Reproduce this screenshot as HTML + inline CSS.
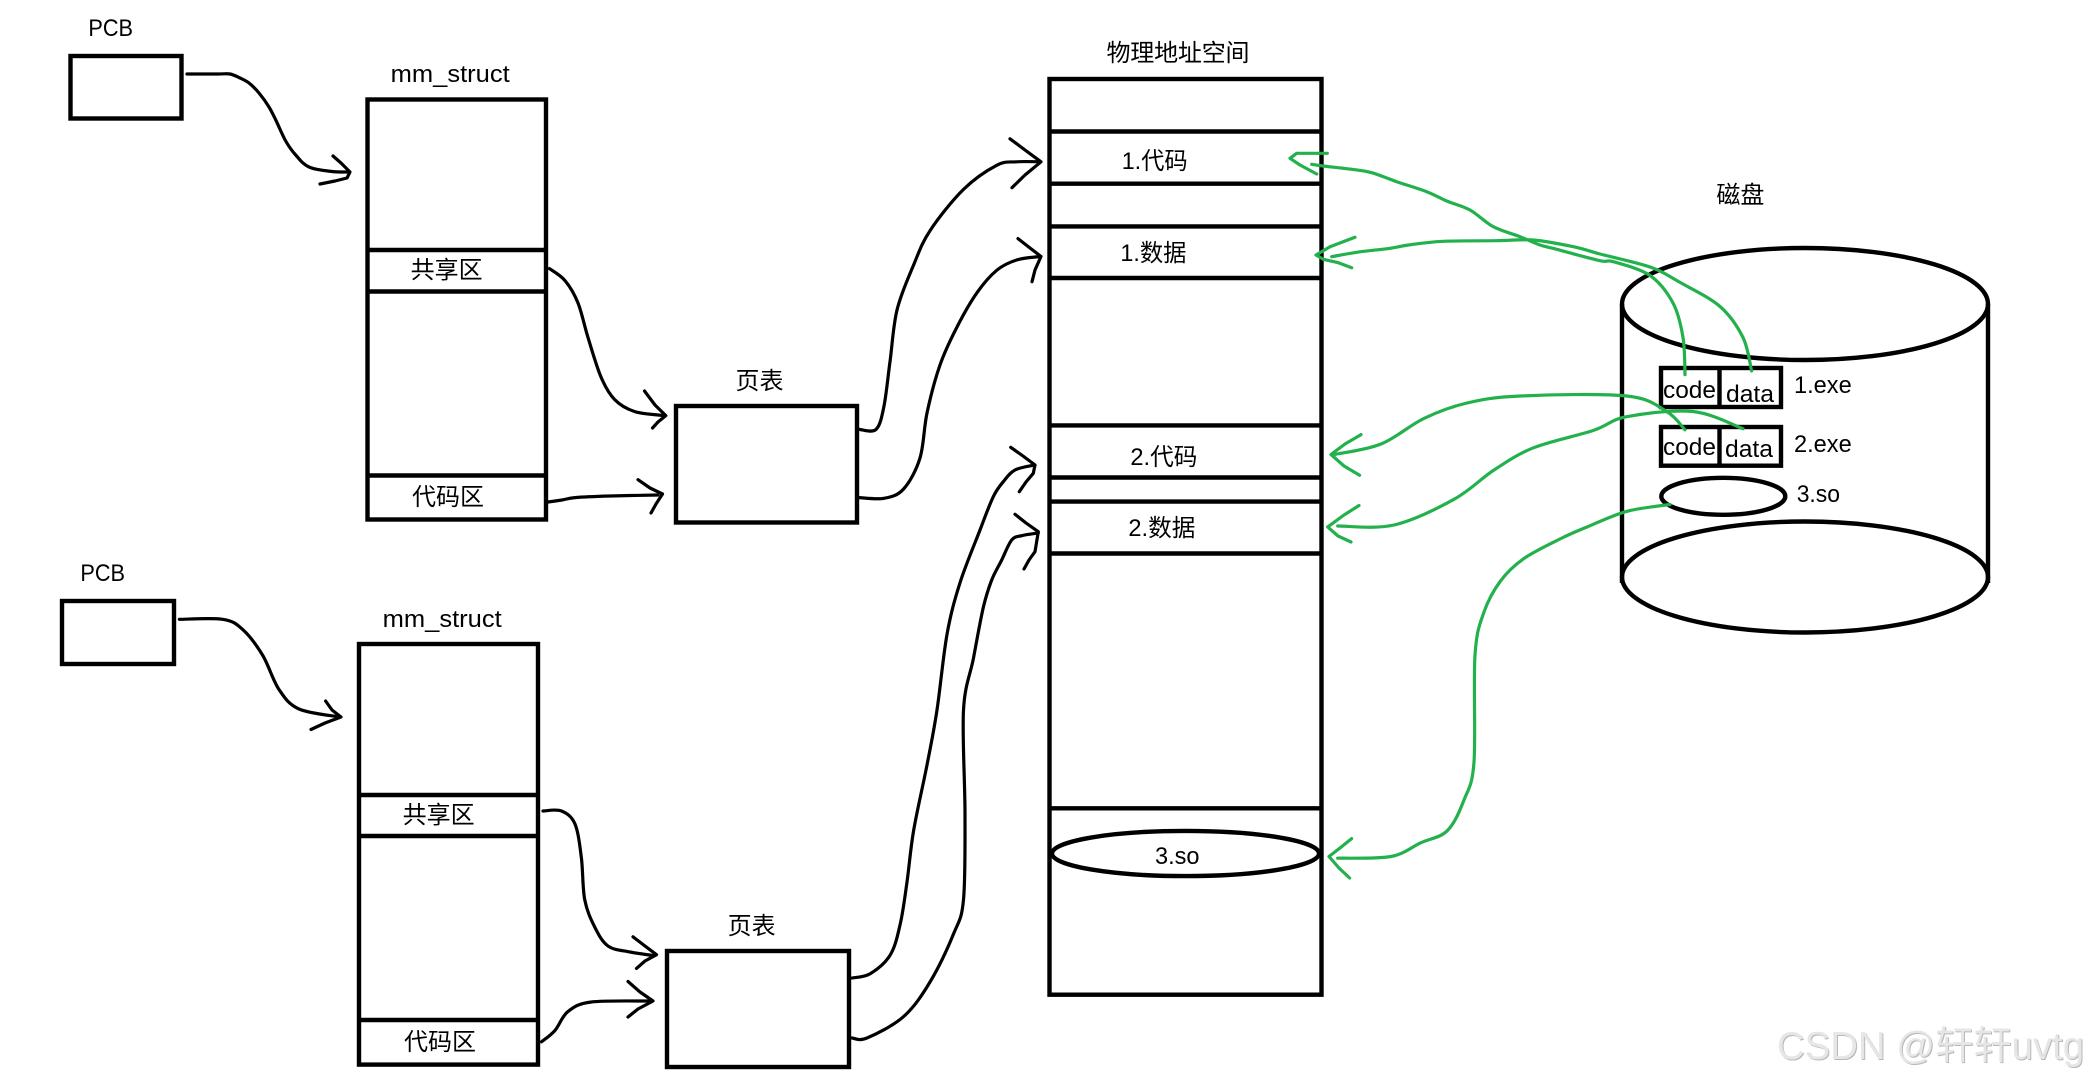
<!DOCTYPE html>
<html lang="zh">
<head>
<meta charset="utf-8">
<title>物理地址空间</title>
<style>
html,body{margin:0;padding:0;background:#fff;width:2084px;height:1078px;overflow:hidden}
svg{display:block}
text{font-family:"Liberation Sans","Noto Sans CJK SC",sans-serif;font-size:24px;fill:#000}
.b{fill:none;stroke:#000;stroke-width:4.4}
.c{fill:none;stroke:#000;stroke-width:3.2;stroke-linejoin:round;stroke-linecap:round}
.g{fill:none;stroke:#22b14c;stroke-width:3.2;stroke-linejoin:round;stroke-linecap:round}
</style>
</head>
<body>
<svg width="2084" height="1078" viewBox="0 0 2084 1078" xmlns="http://www.w3.org/2000/svg">
<rect width="2084" height="1078" fill="#fff"/>

<!-- group 1 -->
<rect class="b" x="70.5" y="56" width="111" height="62.5"/>
<rect class="b" x="367.5" y="99.5" width="178.5" height="420"/>
<line class="b" x1="366" x2="548" y1="250" y2="250"/>
<line class="b" x1="366" x2="548" y1="291.5" y2="291.5"/>
<line class="b" x1="366" x2="548" y1="475.5" y2="475.5"/>
<rect class="b" x="676" y="406" width="181" height="116.5"/>

<!-- group 2 -->
<rect class="b" x="62" y="601" width="112" height="63"/>
<rect class="b" x="359" y="644" width="179" height="420.6"/>
<line class="b" x1="358" x2="540" y1="795" y2="795"/>
<line class="b" x1="358" x2="540" y1="836" y2="836"/>
<line class="b" x1="358" x2="540" y1="1020" y2="1020"/>
<rect class="b" x="667" y="951" width="182" height="116"/>

<!-- physical -->
<rect class="b" x="1049.5" y="79" width="272" height="915.7"/>
<line class="b" x1="1048" x2="1323" y1="131.5" y2="131.5"/>
<line class="b" x1="1048" x2="1323" y1="183.7" y2="183.7"/>
<line class="b" x1="1048" x2="1323" y1="226.4" y2="226.4"/>
<line class="b" x1="1048" x2="1323" y1="278" y2="278"/>
<line class="b" x1="1048" x2="1323" y1="425.4" y2="425.4"/>
<line class="b" x1="1048" x2="1323" y1="477.5" y2="477.5"/>
<line class="b" x1="1048" x2="1323" y1="501.6" y2="501.6"/>
<line class="b" x1="1048" x2="1323" y1="553.5" y2="553.5"/>
<line class="b" x1="1048" x2="1323" y1="808.3" y2="808.3"/>
<ellipse class="b" cx="1185.5" cy="853.5" rx="133.5" ry="22.6"/>

<!-- disk -->
<ellipse class="b" cx="1805" cy="304" rx="183" ry="56"/>
<ellipse class="b" cx="1805" cy="577" rx="183" ry="55.5"/>
<line class="b" x1="1622" x2="1622" y1="304" y2="583"/>
<line class="b" x1="1988" x2="1988" y1="304" y2="583"/>
<rect class="b" x="1661" y="368" width="120" height="39"/>
<line class="b" x1="1719.5" x2="1719.5" y1="367" y2="408"/>
<rect class="b" x="1661" y="427" width="120" height="38.7"/>
<line class="b" x1="1719.5" x2="1719.5" y1="426" y2="466"/>
<ellipse class="b" cx="1723.3" cy="496.3" rx="62" ry="18.5"/>

<!-- black connectors -->
<polyline class="c s" points="187,74 218,74 230,74 240,78 249,83 259,93 269,107 276,120.5 285.7,141 295.7,155 309,167 332,171.5 349,172"/>
<polyline class="c" points="333,156 341,163 350,172 347,178 335,181 320,184"/>
<polyline class="c s" points="549.5,268.6 565,280.6 578,303 588,337.5 601,377 614.6,399.5 634.5,411.5 664.5,415.6"/>
<polyline class="c" points="644.5,391 655,405 665.8,415.6 658,422 652.5,428"/>
<polyline class="c s" points="548,502 562,500 575,497.6 610,496 658,495"/>
<polyline class="c" points="638,479.7 650,488 662.5,494 656,504 651,513"/>
<polyline class="c s" points="859,429.4 876,429.4 884,406 890,361.6 897,310 913.6,265 930,230.7 963.5,189.4 996.7,165.3 1016.6,161.8 1040,161.8"/>
<polyline class="c" points="1010,138.8 1025,150 1041,161.8 1025,175 1012,187.7"/>
<polyline class="c s" points="859,497.6 884,498.3 903.6,489 920,458 927,413 940,365 957,327 977,292.7 996.7,270.3 1016.6,260 1040,256.5"/>
<polyline class="c" points="1018,238.6 1030,248 1041,256.5 1035,270 1032,281.7"/>
<polyline class="c s" points="852,978 870.4,973.6 890.4,954.7 900.3,923.7 907,882 913.6,830.7 927,765 937,710 947,634.4 960,582.8 980,530 993.3,496.7 1003.3,481.7 1015,470 1035,465"/>
<polyline class="c" points="1010.7,447.3 1023,456 1035,465 1033.3,473.3 1026,482 1019.3,491.7"/>
<polyline class="c s" points="852,1038 867,1038 903.6,1016.6 930,982 953.5,934 963.5,899.6 965,813.5 963.5,710 973.4,658.5 983.4,607 991.7,580 1001.7,560 1011.7,540 1021.7,535.7 1038.3,533"/>
<polyline class="c" points="1015,514.3 1026,523 1038.3,531.7 1035,551.7 1029,560 1024,569"/>
<polyline class="c s" points="543,811 561.5,811 575,824 581.4,858 584.7,899.6 594.7,927 608,946 630,952 654.5,955.7"/>
<polyline class="c" points="633,936.8 645,946 656.5,954.7 645,961 636.5,968.4"/>
<polyline class="c s" points="541.5,1041.8 555,1030.4 568,1011.5 591.4,1002 651,1001"/>
<polyline class="c" points="628,981.5 640,992 653,1001 638,1009 628,1017"/>
<polyline class="c s" points="179.4,619.3 222.6,619.3 242.5,629.3 262.5,655 279,689.5 299,709 340,717"/>
<polyline class="c" points="325.6,701 332,710 341,717 325,723 311,729.5"/>

<!-- labels -->
<text x="88.4" y="36" textLength="44.6" lengthAdjust="spacingAndGlyphs">PCB</text>
<text x="80.4" y="581" textLength="44.6" lengthAdjust="spacingAndGlyphs">PCB</text>
<text x="390.7" y="82" textLength="119" lengthAdjust="spacingAndGlyphs">mm_struct</text>
<text x="382.7" y="627" textLength="119" lengthAdjust="spacingAndGlyphs">mm_struct</text>
<text x="410.6" y="278" textLength="72">共享区</text>
<text x="412" y="505" textLength="72">代码区</text>
<text x="402.6" y="823" textLength="72">共享区</text>
<text x="404" y="1050" textLength="72">代码区</text>
<text x="735.5" y="389" textLength="48">页表</text>
<text x="727.6" y="934" textLength="48">页表</text>
<text x="1106.5" y="61" textLength="143">物理地址空间</text>
<text x="1121.7" y="169" textLength="66" lengthAdjust="spacingAndGlyphs">1.代码</text>
<text x="1120.4" y="261" textLength="66" lengthAdjust="spacingAndGlyphs">1.数据</text>
<text x="1130.4" y="465" textLength="67" lengthAdjust="spacingAndGlyphs">2.代码</text>
<text x="1128.4" y="536" textLength="67" lengthAdjust="spacingAndGlyphs">2.数据</text>
<text x="1155" y="864" textLength="44.5" lengthAdjust="spacingAndGlyphs">3.so</text>
<text x="1716.4" y="203" textLength="48">磁盘</text>
<text x="1663" y="398" textLength="53" lengthAdjust="spacingAndGlyphs">code</text>
<text x="1726" y="402" textLength="48" lengthAdjust="spacingAndGlyphs">data</text>
<text x="1663" y="455" textLength="53" lengthAdjust="spacingAndGlyphs">code</text>
<text x="1725" y="457" textLength="48" lengthAdjust="spacingAndGlyphs">data</text>
<text x="1794" y="393" textLength="57.7" lengthAdjust="spacingAndGlyphs">1.exe</text>
<text x="1794" y="452" textLength="57.7" lengthAdjust="spacingAndGlyphs">2.exe</text>
<text x="1796.7" y="502" textLength="43.3" lengthAdjust="spacingAndGlyphs">3.so</text>

<!-- green connectors -->
<polyline class="g s" points="1685,374.7 1683,337.5 1673,303 1650,275.5 1613.4,261.7 1600,260.7 1556.7,249.3 1540,245 1520,236.7 1493.3,226.7 1470,210 1446.7,201 1426.7,191.7 1396.7,181.7 1371.7,172.7 1351.7,169.3 1323,166 1311.7,164.3"/>
<polyline class="g" points="1327.3,153.3 1296.7,153.3 1290,158.3 1300,165 1316.7,174"/>
<polyline class="g s" points="1751.6,371 1743,337.5 1720,306.5 1680,282.4 1650,267 1600,254 1573.3,246.7 1533.3,240 1496.7,240.7 1443.3,241.3 1408.3,245 1390,248.3 1356.7,252.3 1331.7,256.7"/>
<polyline class="g" points="1355,237.3 1330,246.7 1316,255 1323.3,259.3 1338.3,262.7 1351.7,267.7"/>
<polyline class="g s" points="1685,429.8 1666.6,411.5 1626.7,396 1520.4,396 1467,403 1424,418.4 1381,444 1334.4,454.5"/>
<polyline class="g" points="1361,434.6 1345,444 1331,454.5 1344,466 1359.6,475.2"/>
<polyline class="g s" points="1743,428.7 1693,411.5 1626.7,416.7 1593.5,430.4 1533.7,447.7 1494,470 1454,499.3 1394,525 1337.7,526"/>
<polyline class="g" points="1359,505.5 1344,515 1327.7,526.9 1338,536 1351,542"/>
<polyline class="g s" points="1670,504.5 1626.7,511.4 1587,527 1560,539 1523.7,558.7 1500.5,581 1484,612 1475,655 1474,762 1464,800 1447.3,830.7 1420.7,842.8 1391,856.5 1337.7,858.2"/>
<polyline class="g" points="1351.6,838.6 1340,848 1329,856.5 1339,868 1349.6,878"/>

<!-- watermark -->
<text x="1778" y="1060" textLength="307" lengthAdjust="spacingAndGlyphs" style="font-size:39px;fill:#b8b8b8">CSDN @轩轩uvtg</text>
<text x="1777" y="1059" textLength="307" lengthAdjust="spacingAndGlyphs" style="font-size:39px;fill:#e6e6e6">CSDN @轩轩uvtg</text>
</svg>
<script>
// Smooth the hand-drawn connectors through their sample points
(function(){
  var NS="http://www.w3.org/2000/svg";
  var list=document.querySelectorAll("polyline.s");
  for(var i=0;i<list.length;i++){
    var el=list[i];
    var n=el.getAttribute("points").trim().split(/\s+/).map(function(s){var a=s.split(",");return [+a[0],+a[1]];});
    var d="M"+n[0][0]+" "+n[0][1];
    for(var k=0;k<n.length-1;k++){
      var p0=n[k-1]||n[k],p1=n[k],p2=n[k+1],p3=n[k+2]||p2;
      d+=" C"+(p1[0]+(p2[0]-p0[0])/6).toFixed(1)+" "+(p1[1]+(p2[1]-p0[1])/6).toFixed(1)+" "+
         (p2[0]-(p3[0]-p1[0])/6).toFixed(1)+" "+(p2[1]-(p3[1]-p1[1])/6).toFixed(1)+" "+p2[0]+" "+p2[1];
    }
    var path=document.createElementNS(NS,"path");
    path.setAttribute("class",el.getAttribute("class"));
    path.setAttribute("d",d);
    el.parentNode.replaceChild(path,el);
  }
})();
</script>
</body>
</html>
